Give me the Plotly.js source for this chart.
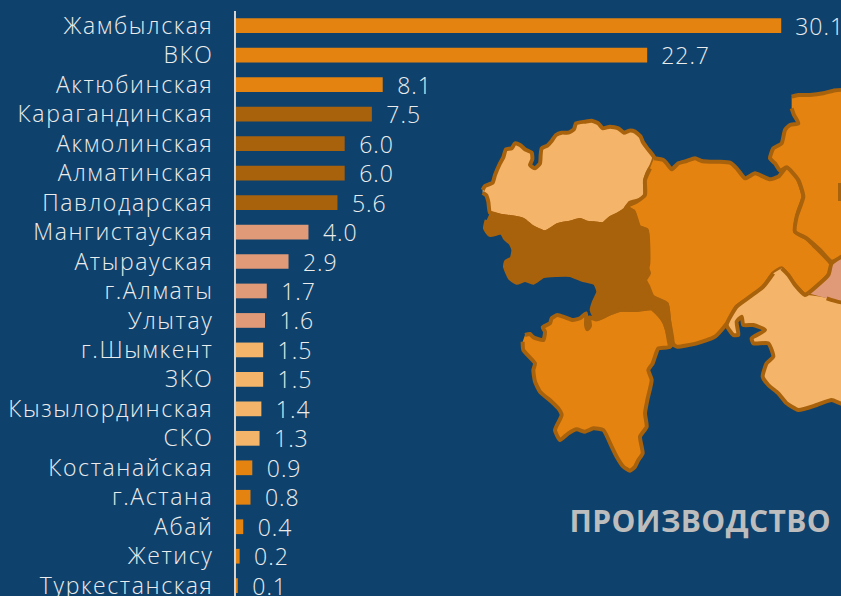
<!DOCTYPE html>
<html><head><meta charset="utf-8">
<script src="https://cdn.plot.ly/plotly-3.0.1.min.js"></script>
<style>html,body{margin:0;padding:0;background:#0e426d;overflow:hidden}
.ytick text{letter-spacing:1.6px}
.bars text{letter-spacing:1px}
.annotation text{letter-spacing:.4px}</style>
</head><body><div id="chart" style="width:841px;height:596px"></div>
<script>
const regions = ['Жамбылская','ВКО','Актюбинская','Карагандинская','Акмолинская','Алматинская','Павлодарская','Мангистауская','Атырауская','г.Алматы','Улытау','г.Шымкент','ЗКО','Кызылординская','СКО','Костанайская','г.Астана','Абай','Жетису','Туркестанская'];
const values = [30.1,22.7,8.1,7.5,6.0,6.0,5.6,4.0,2.9,1.7,1.6,1.5,1.5,1.4,1.3,0.9,0.8,0.4,0.2,0.1];
const valueLabels = ['30.1','22.7','8.1','7.5','6.0','6.0','5.6','4.0','2.9','1.7','1.6','1.5','1.5','1.4','1.3','0.9','0.8','0.4','0.2','0.1'];
const ORANGE='#e58311', DARK='#a9620c', PINK='#e09a78', LIGHT='#f4b56b';
const barColors = [ORANGE,ORANGE,ORANGE,DARK,DARK,DARK,DARK,PINK,PINK,PINK,PINK,LIGHT,LIGHT,LIGHT,LIGHT,ORANGE,ORANGE,ORANGE,ORANGE,ORANGE];
const zkoX=[38,45,68,75,90,100,108,125,135,150,165,185,187,180,195,210,212,215,232,245,258,275,295,312,318,345,365,385,398,420,445,462,478,495,512,518,532,552,545,532,525,525,510,480,465,440,420,400,370,350,330,300,265,225,205,185,160,125,95,60,55,48,38];
const zkoY=[330,318,308,285,250,232,208,205,190,195,208,218,238,255,265,250,225,205,197,183,165,158,158,148,130,125,122,130,145,140,145,158,152,155,170,185,205,232,255,280,305,345,360,368,388,405,415,432,430,428,420,428,435,457,450,440,420,412,408,398,365,345,338];
const atyrauX=[60,95,125,160,185,205,225,265,300,330,350,370,400,420,440,465,490,500,508,530,532,530,537,525,535,548,590,597,608,600,590,575,545,500,450,420,380,365,372,385,375,340,300,260,220,190,165,140,120,105,108,125,130,122,105,95,60,45,50];
const atyrauY=[398,408,412,420,440,450,457,435,428,420,428,430,432,415,405,392,393,420,442,452,520,560,580,600,620,650,672,720,790,800,745,715,685,690,690,700,718,690,665,635,610,600,585,585,588,608,600,608,595,560,545,535,510,490,475,458,465,445,420];
const mangX=[165,180,190,220,225,218,240,245,262,285,308,330,348,348,352,360,358,380,420,450,500,545,580,600,565,555,548,535,545,532,525,530,510,518,505,495,480,460,440,425,400,370,345,320,295,270,255,275,265,245,210,195,190,195,160,158];
const mangY=[765,762,772,780,755,742,730,715,705,712,720,715,700,735,748,738,712,718,700,690,690,685,720,800,805,830,850,870,900,960,1000,1040,1070,1120,1140,1160,1172,1160,1130,1100,1050,1045,1055,1048,1060,1080,1050,1005,985,965,935,905,870,850,810,785];
const aktobeX=[552,580,590,605,625,650,675,695,720,750,780,800,825,855,880,900,925,950,970,985,1000,985,975,1010,1030,1085,1075,1050,1015,1005,975,935,910,880,845,800,775,735,680,620,608,597,590,545,525,535,530,505,490,470,500,525,525,540];
const aktobeY=[235,240,250,268,250,243,235,243,245,245,248,265,295,280,290,298,290,262,270,300,350,395,455,475,495,555,585,610,640,645,615,565,580,620,650,680,725,770,790,800,790,720,672,650,600,550,450,440,395,380,365,345,300,265];
const kostX=[965,985,1020,1060,1090,1130,1130,1085,1050,1010,975,980,1000,985,950,930,915,900,910,935,945,960,985,972,965];
const kostY=[50,45,45,40,32,32,520,545,510,475,455,410,350,300,262,272,250,235,205,190,150,135,130,105,85];
const kyzylX=[935,955,975,1005,1015,1130,1130,1085,1040,985,950,925,895,878,890,910,895,850,845,885,850,820,815,800,805,790,770,800,840,880,910];
const kyzylY=[565,585,615,645,640,668,975,960,975,990,970,940,915,890,850,830,790,790,775,750,735,735,710,725,765,765,735,680,650,620,580];
const pinkX=[1015,1075,1085,1130,1130,1070];
const pinkY=[640,585,550,525,668,655];
const riverX=[1110,1110];
const riverY=[309,363];
const mapTitle='ПРОИЗВОДСТВО';

const poly=(x,y,c)=>({type:'scatter',mode:'lines',x,y,xaxis:'x2',yaxis:'y2',fill:'toself',fillcolor:c,
  line:{color:DARK,width:4,shape:'spline',smoothing:0.5},hoverinfo:'skip',showlegend:false});
const traces=[
  poly(zkoX,zkoY,LIGHT),poly(aktobeX,aktobeY,ORANGE),poly(kostX,kostY,ORANGE),
  poly(kyzylX,kyzylY,LIGHT),poly(pinkX,pinkY,PINK),poly(mangX,mangY,ORANGE),poly(atyrauX,atyrauY,DARK),
  {type:'scatter',mode:'lines',x:riverX,y:riverY,xaxis:'x2',yaxis:'y2',line:{color:DARK,width:4},hoverinfo:'skip',showlegend:false},
  {type:'bar',orientation:'h',y:regions,x:values,marker:{color:barColors,line:{width:0}},width:0.5,
   text:valueLabels.map(t=>'\u00a0\u00a0'+t),textposition:'outside',constraintext:'none',cliponaxis:false,
   textfont:{family:'Open Sans, sans-serif',size:23,weight:300,color:'#ececec'},
   hoverinfo:'skip',showlegend:false}
];
const layout={
  width:841,height:596,paper_bgcolor:'#0e426d',plot_bgcolor:'#0e426d',
  margin:{l:236,r:0,t:11,b:0},showlegend:false,bargap:0.5,
  font:{family:'Open Sans, sans-serif',color:'#ececec'},
  xaxis:{range:[0,33.4],visible:false,fixedrange:true},
  yaxis:{type:'category',categoryorder:'array',categoryarray:regions,range:[19.35,-0.5],
    showline:true,linecolor:'#d4d4d4',linewidth:2,ticks:'',showgrid:false,
    tickfont:{family:'Open Sans, sans-serif',size:23,weight:300,color:'#ececec'},ticklabelstandoff:16,automargin:false,fixedrange:true},
  xaxis2:{range:[-702,1113],visible:false,overlaying:'x',anchor:'y2',fixedrange:true},
  yaxis2:{range:[1548,-207],visible:false,overlaying:'y',anchor:'x2',fixedrange:true},
  annotations:[{xref:'paper',yref:'paper',x:(700.5-236)/605,y:(596-520)/585,xanchor:'center',yanchor:'middle',text:mapTitle,showarrow:false,
    font:{family:'Open Sans, sans-serif',size:30,color:'#bdbdbd',weight:700}}]
};
Plotly.newPlot('chart',traces,layout,{displayModeBar:false,staticPlot:true});
</script></body></html>
